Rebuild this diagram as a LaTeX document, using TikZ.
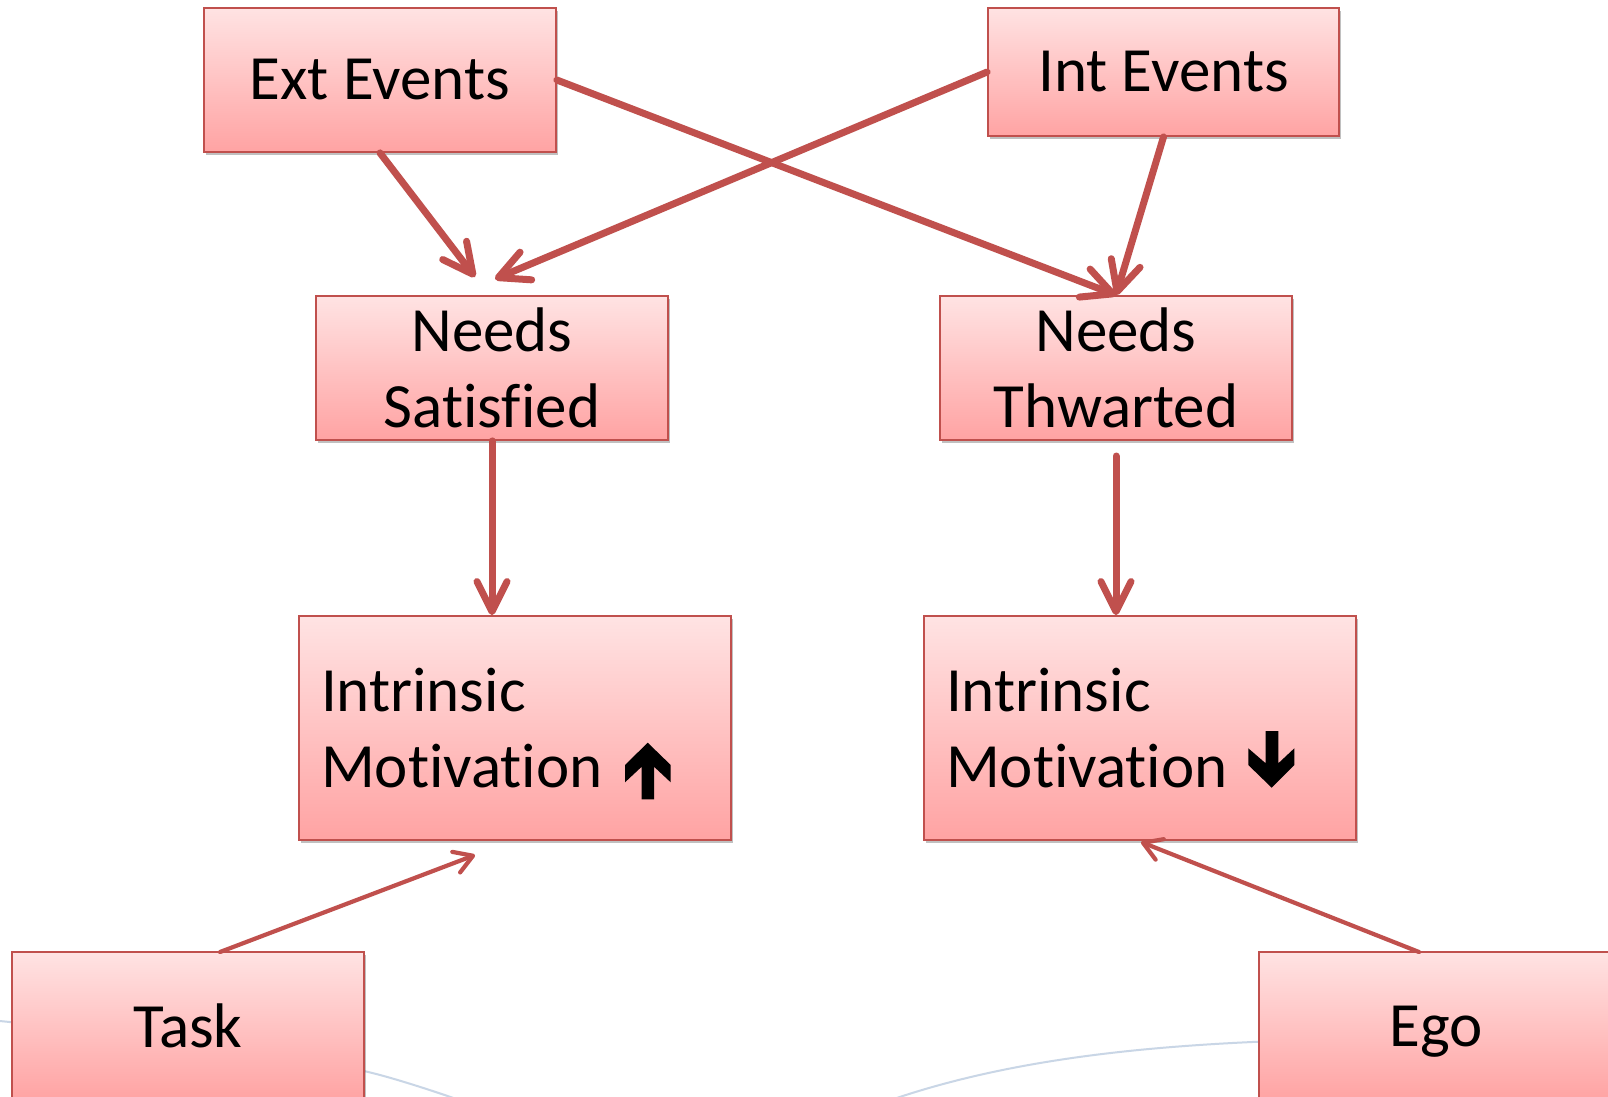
\documentclass[tikz,border=0pt]{standalone}
\usepackage{fontspec}
\setmainfont{Carlito}[Ligatures=CommonOff]
\usetikzlibrary{arrows.meta,shadows,calc}
\definecolor{arrowred}{HTML}{C0504D}
\definecolor{boxtop}{HTML}{FFE3E3}
\definecolor{boxbot}{HTML}{FFA3A3}
\definecolor{bgline}{HTML}{C9D6E6}
\newcommand{\nolig}{\kern0pt{}}
\tikzset{
  box/.style={rectangle, draw=arrowred, line width=1.8bp, top color=boxtop, bottom color=boxbot,
    font=\fontsize{63bp}{76bp}\selectfont, align=center, inner sep=0pt,
    drop shadow={shadow xshift=1.5bp, shadow yshift=-3bp, opacity=0.35, fill=black!70}},
  bigarrow/.style={draw=arrowred, line width=7bp, line cap=round,
    -{Straight Barb[length=30bp,width=30bp,round]}},
  thinarrow/.style={draw=arrowred, line width=4.2bp, line cap=round,
    -{Straight Barb[length=18bp,width=22bp,round]}},
  glyph/.style={fill=black},
  bg/.style={draw=bgline, line width=2bp}
}
\begin{document}
\begin{tikzpicture}[x=1bp,y=-1bp]
\useasboundingbox (0,0) rectangle (1608,1096);
\clip (0,0) rectangle (1608,1096);
\fill[white] (0,0) rectangle (1608,1096);
% faint background curves
\draw[bg] plot[smooth] coordinates {(-10,1020) (200,1043) (364,1071) (465,1102)};
\draw[bg] (885,1102) .. controls (1010,1058) and (1150,1046) .. (1275,1041);
% boxes
\node[box, minimum width=352bp, minimum height=144bp] (ext) at (380,80) {Ext Events};
\node[box, minimum width=351bp, minimum height=128bp] (int) at (1163.5,72) {Int Events};
\node[box, minimum width=352bp, minimum height=144bp] (ns) at (492,368) {Needs\\Satisf\nolig ied};
\node[box, minimum width=352bp, minimum height=144bp] (nt) at (1116,368) {Needs\\Thwarted};
\node[box, minimum width=432bp, minimum height=224bp, text width=388bp, align=left] (imu) at (515,728) {Intrinsic\\Mot\nolig ivat\nolig ion};
\node[box, minimum width=432bp, minimum height=224bp, text width=388bp, align=left] (imd) at (1140,728) {Intrinsic\\Mot\nolig ivat\nolig ion};
\node[box, minimum width=352bp, minimum height=148bp, text depth=0pt] (task) at (188,1026) {Task};
\node[box, minimum width=354bp, minimum height=148bp, text depth=0pt] (ego) at (1436,1026) {Ego};
% arrow glyphs
\fill[glyph] (647.7,742.7) -- (670.7,765) -- (670.7,782.3) -- (654,766.7) -- (654,799.3)
  -- (641.7,799.3) -- (641.7,766.7) -- (625,782.3) -- (625,765) -- cycle;
\fill[glyph] (1265.7,731) -- (1278.3,731) -- (1278.3,763.3) -- (1294.3,748.3) -- (1294.3,765)
  -- (1271.7,787.7) -- (1248.3,765) -- (1248.3,748.3) -- (1265.7,763.3) -- cycle;
% free ends
\coordinate (s1) at (475,277);
\coordinate (s2) at (495,279);
\coordinate (t6) at (1116,456);
\coordinate (t7) at (220,952);
\coordinate (h7) at (475,855);
\coordinate (t8) at (1419,952);
\coordinate (h8) at (1141,842);
% connectors
\draw[bigarrow] (ext.south) -- (s1);
\draw[bigarrow] (int.west) -- (s2);
\draw[bigarrow] (ext.east) -- (nt.north);
\draw[bigarrow] (int.south) -- (nt.north);
\draw[bigarrow] (ns.south) -- (ns.south |- imu.north);
\draw[bigarrow] (t6) -- (t6 |- imd.north);
\draw[thinarrow] (t7) -- (h7);
\draw[thinarrow] (t8) -- (h8);
\end{tikzpicture}
\end{document}
